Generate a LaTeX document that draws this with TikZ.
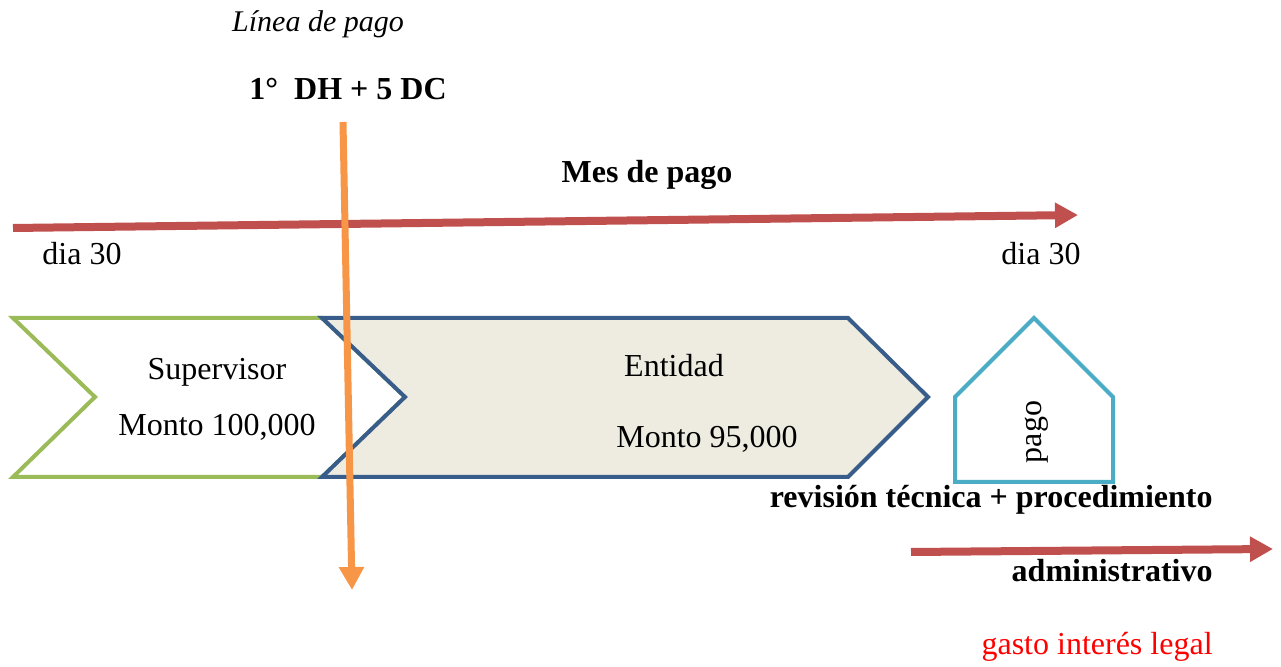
\documentclass[tikz,border=0pt]{standalone}
\usepackage{fontspec}
\setmainfont{Liberation Serif}
\usetikzlibrary{arrows.meta}
\definecolor{flecharoja}{RGB}{192,80,77}
\definecolor{lineanaranja}{RGB}{247,150,70}
\definecolor{bordeverde}{RGB}{155,187,89}
\definecolor{bordeazul}{RGB}{56,93,138}
\definecolor{rellenobeige}{RGB}{238,236,225}
\definecolor{bordecian}{RGB}{75,172,198}

\begin{document}
\begin{tikzpicture}[x=0.5pt,y=-0.5pt,
  flecha/.style={line width=4pt,-{Triangle[length=11.5pt,width=12pt]}},
  txt/.style={font=\fontsize{16}{19}\selectfont,inner sep=0pt},
  forma/.style={line width=2pt,line join=miter}]
\useasboundingbox (0,0) rectangle (1281,667);
\path (13,228) coordinate(m1)
(1078,215) coordinate(m2)
(343,122) coordinate(l1)
(352,590) coordinate(l2)
(911,552) coordinate(g1)
(1273,549) coordinate(g2);
% supervisor y entidad
\draw[forma,bordeverde,fill=white] (13,318) -- (322,318) -- (405,397)
-- (322,477) -- (13,477) -- (95,397) -- cycle;
\draw[forma,bordeazul,fill=rellenobeige] (322,318) -- (848,318) -- (928,397)
-- (848,477) -- (322,477) -- (405,397) -- cycle;
\draw[forma,bordecian] (955,397) -- (1034,318) -- (1113,397)
-- (1113,482) -- (955,482) -- cycle;
% flechas
\draw[flecha,flecharoja] (m1) -- (m2);
\draw[flecha,flecharoja] (g1) -- (g2);
\draw[flecha,lineanaranja,line width=3.5pt] (l1) -- (l2);
% textos
\path (318,32) node(linea)[txt,anchor=base,font=\fontsize{15}{18}\selectfont\itshape] {Línea de pago}
(348,100) node(dhdc)[txt,anchor=base,font=\fontsize{16}{19}\selectfont\bfseries] {1°\ \ DH + 5 DC}
(647,183) node(mes)[txt,anchor=base,font=\fontsize{16}{19}\selectfont\bfseries] {Mes de pago}
(82,265) node(dia1)[txt,anchor=base] {dia 30}
(1041,265) node(dia2)[txt,anchor=base] {dia 30}
(217,380) node(superv)[txt,anchor=base] {Supervisor}
(217,436) node(monto1)[txt,anchor=base] {Monto 100,000}
(674,377) node(entidad)[txt,anchor=base] {Entidad}
(707,448) node(monto2)[txt,anchor=base] {Monto 95,000}
(1037,432) node(pago)[txt,rotate=90] {pago}
(1213,508) node(revision)[txt,anchor=base east,font=\fontsize{16}{19}\selectfont\bfseries] {revisión técnica + procedimiento}
(1213,582) node(admin)[txt,anchor=base east,font=\fontsize{16}{19}\selectfont\bfseries] {administrativo}
(1213,655) node(gasto)[txt,anchor=base east,red] {gasto interés legal};
\end{tikzpicture}
\end{document}
